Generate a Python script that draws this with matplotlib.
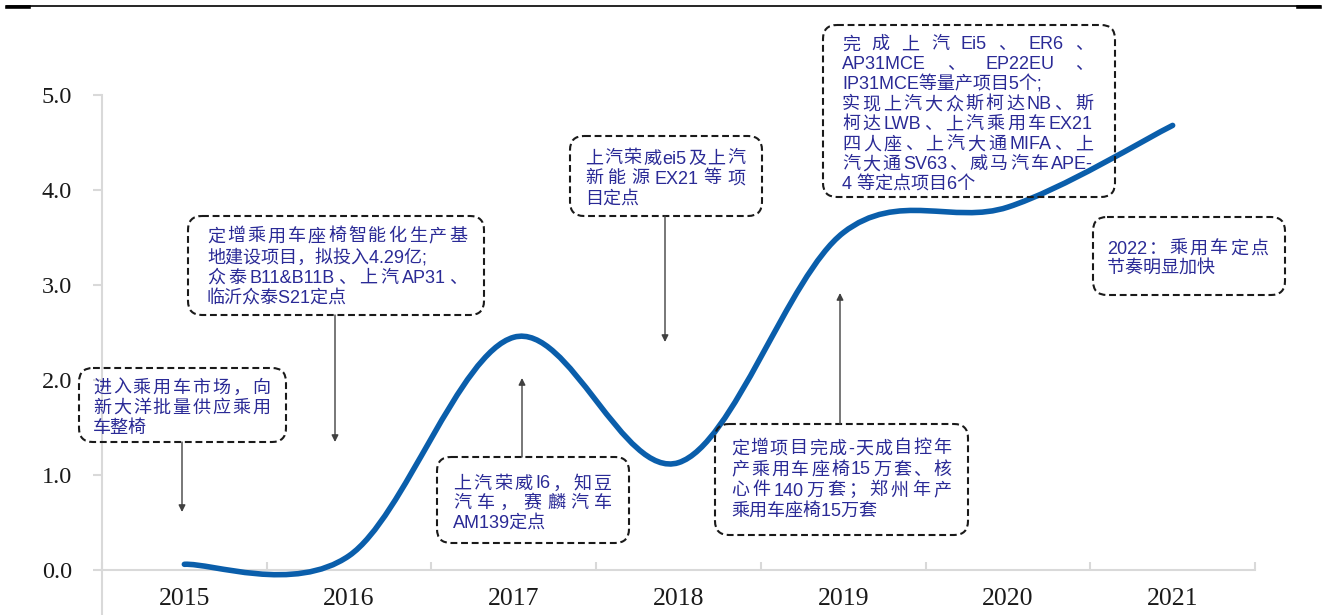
import re
import numpy as np
import matplotlib
matplotlib.use("Agg")
import matplotlib.pyplot as plt
from matplotlib.path import Path
from matplotlib.patches import PathPatch, FancyBboxPatch, FancyArrowPatch
from matplotlib.lines import Line2D
from matplotlib.transforms import Affine2D

# ---- data -------------------------------------------------------------
years = ["2015", "2016", "2017", "2018", "2019", "2020", "2021"]
values = [0.06, 0.15, 2.45, 1.13, 3.55, 3.82, 4.68]
y_ticks = [0.0, 1.0, 2.0, 3.0, 4.0, 5.0]

# milestone notes: each note is a list of paragraphs, each paragraph a list of lines
note_2015 = [["进入乘用车市场，向", "新大洋批量供应乘用", "车整椅"]]
note_2016 = [["定增乘用车座椅智能化生产基", "地建设项目，拟投入4.29亿;"],
             ["众泰B11&B11B、上汽AP31、", "临沂众泰S21定点"]]
note_2017 = [["上汽荣威I6，知豆", "汽车，赛麟汽车", "AM139定点"]]
note_2018 = [["上汽荣威ei5及上汽", "新能源 EX21 等项", "目定点"]]
note_2019_top = [["完成上汽Ei5、ER6、", "AP31MCE、EP22EU、", "IP31MCE等量产项目5个;"],
                 ["实现上汽大众斯柯达NB、斯", "柯达LWB、上汽乘用车EX21", "四人座、上汽大通MIFA、上",
                  "汽大通SV63、威马汽车APE-", "4 等定点项目6个"]]
note_2019_bottom = [["定增项目完成-天成自控年", "产乘用车座椅15万套、核",
                     "心件140万套；郑州年产", "乘用车座椅15万套"]]
note_2021 = [["2022：乘用车定点", "节奏明显加快"]]

# ---- style ------------------------------------------------------------
W, H, DPI = 1325, 615, 100
AXIS_GRAY = "#d9d9d9"
LINE_BLUE = "#0a5eab"
NOTE_BLUE = "#2a2a96"
NOTE_FONT = ["Liberation Sans", "Noto Sans CJK SC"]
NOTE_SIZE = 13

fig = plt.figure(figsize=(W / DPI, H / DPI), dpi=DPI)
# pixel space with the origin at the top-left corner of the canvas
pix = Affine2D().scale(1 / DPI, -1 / DPI).translate(0, H / DPI) + fig.dpi_scale_trans

ax = fig.add_axes([102 / W, -2.5 / H, (1255 - 102) / W, (617.5 - 95) / H])
ax.set_xlim(-0.5, len(years) - 0.5)
ax.set_ylim(-0.5, 5.0)
ax.patch.set_alpha(0)

for s in ("top", "right"):
    ax.spines[s].set_visible(False)
ax.spines["bottom"].set_position(("data", 0))
for s in ("left", "bottom"):
    ax.spines[s].set_color(AXIS_GRAY)
    ax.spines[s].set_linewidth(1.5)

ax.set_xticks(np.arange(-0.5, len(years), 1.0))
ax.set_xticks(np.arange(len(years)), minor=True)
ax.set_xticklabels(years, minor=True, family="Liberation Serif", fontsize=18.5, color="#1a1a1a")
ax.tick_params(axis="x", which="major", direction="in", length=6, width=1.5,
               color=AXIS_GRAY, labelbottom=False)
ax.tick_params(axis="x", which="minor", length=0, pad=13)

ax.set_yticks(y_ticks)
ax.set_yticklabels([f"{v:.1f}" for v in y_ticks], family="Liberation Serif",
                   fontsize=17.5, color="#1a1a1a")
ax.tick_params(axis="y", direction="out", length=6.5, width=1.5, color=AXIS_GRAY, pad=15)

# ---- smoothed line through the yearly values (cubic Bezier segments) ---
xs = np.arange(len(values), dtype=float)
ys = np.asarray(values, dtype=float)
pts = np.column_stack([xs, ys])
verts = [pts[0]]
codes = [Path.MOVETO]
n = len(pts)
for i in range(n - 1):
    p_prev = pts[max(i - 1, 0)]
    p0, p1 = pts[i], pts[i + 1]
    p_next = pts[min(i + 2, n - 1)]
    c1 = p0 + (p1 - p_prev) / 6.0
    c2 = p1 - (p_next - p0) / 6.0
    verts += [c1, c2, p1]
    codes += [Path.CURVE4] * 3
curve = PathPatch(Path(verts, codes), fill=False, edgecolor=LINE_BLUE, lw=4.0,
                  capstyle="round", joinstyle="round", zorder=5, transform=ax.transData)
ax.add_patch(curve)

# ---- rule across the top ----------------------------------------------
fig.add_artist(Line2D([7, 1320], [6, 6], transform=pix, color="black", lw=1.2))
fig.add_artist(Line2D([7, 29], [6.5, 6.5], transform=pix, color="black", lw=2.6))
fig.add_artist(Line2D([1298, 1320], [6.5, 6.5], transform=pix, color="black", lw=2.6))

# ---- note boxes ---------------------------------------------------------
renderer = fig.canvas.get_renderer()
token_re = re.compile(r"[A-Za-z0-9.&\-]+|\S")


def draw_note(paragraphs, rect, text_x, first_center, step):
    x0, y0, x1, y1 = rect
    box = FancyBboxPatch((x0, y0), x1 - x0, y1 - y0,
                         boxstyle="round,pad=0,rounding_size=14",
                         transform=pix, fill=False, edgecolor="#1a1a1a",
                         lw=1.5, linestyle=(0, (3.3, 1.8)), zorder=3)
    fig.add_artist(box)
    left, right = text_x
    row = 0
    for para in paragraphs:
        for k, line in enumerate(para):
            base = first_center + row * step + 6.5
            last = k == len(para) - 1
            if last:
                fig.text(left, base, line, transform=pix, family=NOTE_FONT,
                         fontsize=NOTE_SIZE, color=NOTE_BLUE, va="baseline", ha="left", zorder=4)
            else:
                tokens = token_re.findall(line)
                arts = [fig.text(0, base, t, transform=pix, family=NOTE_FONT,
                                 fontsize=NOTE_SIZE, color=NOTE_BLUE, va="baseline",
                                 ha="left", zorder=4) for t in tokens]
                widths = [a.get_window_extent(renderer).width for a in arts]
                gap = (right - left - sum(widths)) / max(len(tokens) - 1, 1)
                x = left
                for a, w in zip(arts, widths):
                    a.set_x(x)
                    x += w + gap
            row += 1


def draw_arrow(x, y_from, y_to):
    arr = FancyArrowPatch((x, y_from), (x, y_to), transform=pix, arrowstyle="-|>",
                          mutation_scale=10, lw=1.0, color="#404040",
                          shrinkA=0, shrinkB=0, zorder=4)
    fig.add_artist(arr)


draw_note(note_2015, (79, 368, 286, 442), (93, 270), 386, 20)
draw_note(note_2016, (188, 216, 484, 315), (207, 467), 235, 20.7)
draw_note(note_2017, (437, 457, 629, 543), (453, 612), 482, 19.5)
draw_note(note_2018, (570, 136, 762, 216), (585, 745), 157, 20)
draw_note(note_2019_top, (823, 25, 1115, 197), (842, 1093), 42.7, 20)
draw_note(note_2019_bottom, (715, 424, 968, 535), (731, 951), 447, 21)
draw_note(note_2021, (1093, 217, 1285, 295), (1107, 1268), 247, 19.5)

draw_arrow(182, 442, 512)
draw_arrow(335, 315, 442)
draw_arrow(522, 457, 378)
draw_arrow(665, 216, 342)
draw_arrow(840, 424, 293)

fig.savefig("out.png", dpi=DPI, facecolor="white")
